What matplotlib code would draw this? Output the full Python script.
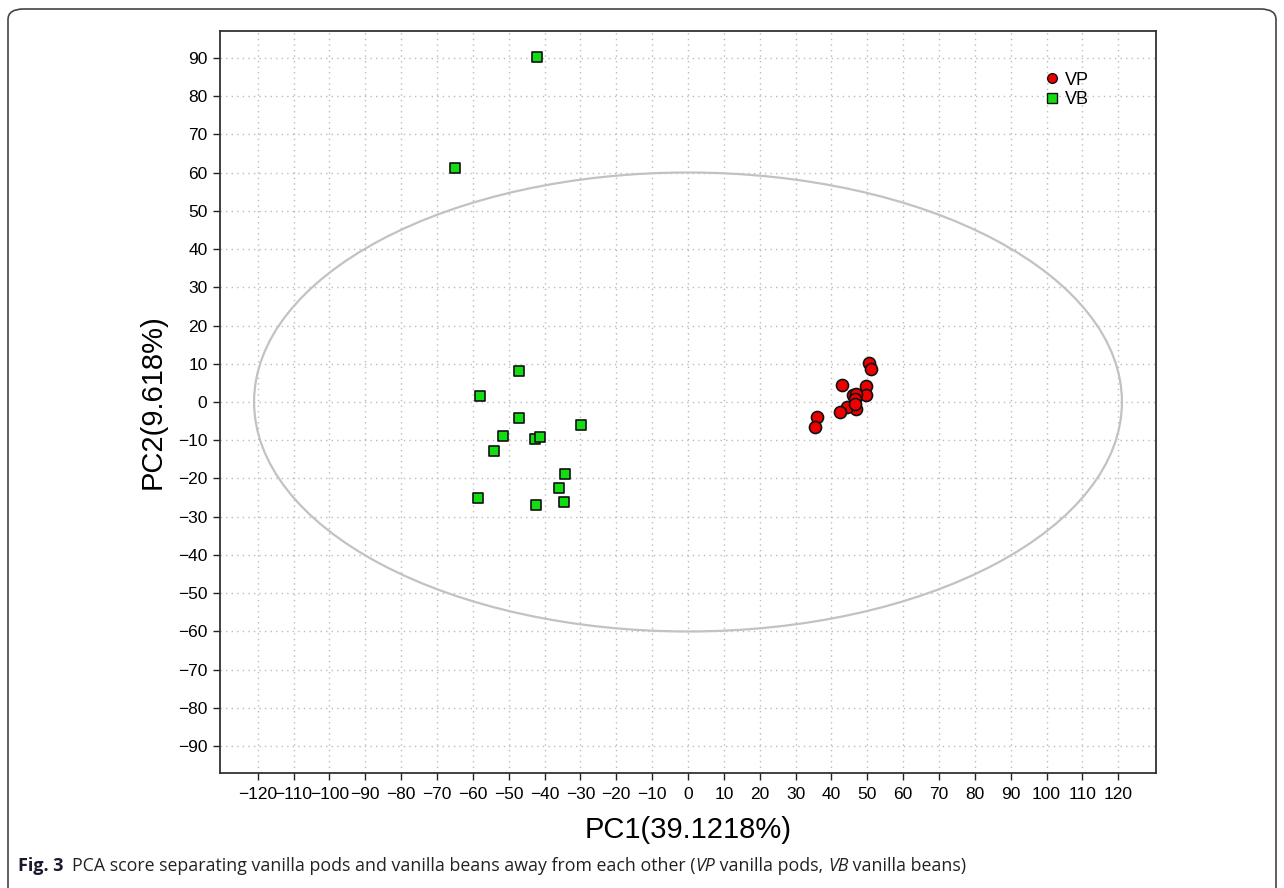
import matplotlib
matplotlib.use("Agg")
import matplotlib.pyplot as plt
from matplotlib.patches import Ellipse, FancyBboxPatch
from matplotlib.lines import Line2D

plt.rcParams['font.family'] = ['Liberation Sans', 'DejaVu Sans']

# Data
vp_x = [50.4, 50.9, 43.0, 49.7, 49.6, 45.9, 46.9, 46.7, 46.8, 44.3, 42.5, 46.5, 35.9, 35.5]
vp_y = [10.2, 8.7, 4.5, 4.3, 1.9, 1.9, 2.2, 0.8, -1.8, -1.3, -2.6, -0.4, -4.0, -6.6]

vb_x = [-42.2, -64.9, -47.2, -57.9, -47.1, -29.9, -51.7, -42.7, -41.3, -54.1, -34.2, -36.1, -58.6, -42.4, -34.7]
vb_y = [90.2, 61.3, 8.0, 1.5, -4.3, -6.0, -8.9, -9.6, -9.1, -12.7, -18.8, -22.5, -25.2, -26.8, -26.1]

x_ticks = list(range(-120, 121, 10))
y_ticks = list(range(-90, 91, 10))

ellipse_center = (0.0, 0.0)
ellipse_width = 242.0
ellipse_height = 120.0

fig = plt.figure(figsize=(12.84, 8.88), dpi=100)
ax = fig.add_axes([220/1284, 1-773/888, (1156-220)/1284, (773-31)/888])

ax.set_xlim(-130.5, 130.5)
ax.set_ylim(-97, 97)

ax.set_xticks(x_ticks)
ax.set_yticks(y_ticks)
ax.set_xticklabels([f"{v}".replace('-', '\u2212') for v in x_ticks], fontsize=12.5)
ax.set_yticklabels([f"{v}".replace('-', '\u2212') for v in y_ticks], fontsize=12.5)
ax.tick_params(axis='both', direction='out', length=5, width=1, color='#222222')
ax.tick_params(axis='x', pad=5)
ax.tick_params(axis='y', pad=4)

ax.grid(True, linestyle=(0, (1, 3)), color='#bbbbbb', linewidth=1)
ax.set_axisbelow(True)
for s in ax.spines.values():
    s.set_color('#333333')
    s.set_linewidth(1.3)

ell = Ellipse(ellipse_center, ellipse_width, ellipse_height, fill=False,
              edgecolor='#c2c2c2', linewidth=1.6, zorder=2)
ax.add_patch(ell)

ax.scatter(vp_x, vp_y, s=75, marker='o', facecolor='#ee0000', edgecolor='#111111', linewidth=1.2, zorder=4)
ax.scatter(vb_x, vb_y, s=60, marker='s', facecolor='#11dd11', edgecolor='#111111', linewidth=1.2, zorder=4)

handles = [
    Line2D([], [], linestyle='none', marker='o', markersize=7, markerfacecolor='#ee0000', markeredgecolor='#111111', markeredgewidth=1),
    Line2D([], [], linestyle='none', marker='s', markersize=6.5, markerfacecolor='#11dd11', markeredgecolor='#111111', markeredgewidth=1),
]
ax.legend(handles, ['VP', 'VB'], loc='upper left', bbox_to_anchor=(0.87, 0.955), frameon=False,
          fontsize=13, handletextpad=0.1, labelspacing=0.15, borderaxespad=0, handlelength=1.2)

ax.set_xlabel('PC1(39.1218%)', fontsize=21, labelpad=10)
ax.set_ylabel('PC2(9.618%)', fontsize=21, labelpad=8)

# Figure frame
frame = FancyBboxPatch((8/1284, -0.1), (1276-8)/1284, 1 - 9/888 + 0.1,
                       boxstyle="round,pad=0,rounding_size=0.012", transform=fig.transFigure,
                       fill=False, edgecolor='#444444', linewidth=1.2, clip_on=False)
fig.patches.append(frame)

cap_y = 1 - 866/888
fig.text(18/1284, cap_y, 'Fig. 3', fontsize=13, fontweight='bold', color='#1a1a2e',
         family=['Open Sans', 'DejaVu Sans'], va='center', ha='left')
fig.text(72/1284, cap_y, 'PCA score separating vanilla pods and vanilla beans away from each other (',
         fontsize=12.8, color='#222222', family=['Open Sans', 'DejaVu Sans'], va='center', ha='left')

renderer = fig.canvas.get_renderer()
parts = [('VP', 'italic'), (' vanilla pods, ', 'normal'), ('VB', 'italic'), (' vanilla beans)', 'normal')]
prev = fig.texts[-1]
for txt, style in parts:
    bb = prev.get_window_extent(renderer=renderer)
    x = bb.x1 / fig.bbox.width
    prev = fig.text(x, cap_y, txt, fontsize=12.8, style=style, color='#222222',
                    family=['Open Sans', 'DejaVu Sans'], va='center', ha='left')

fig.savefig('out.png', dpi=100)
